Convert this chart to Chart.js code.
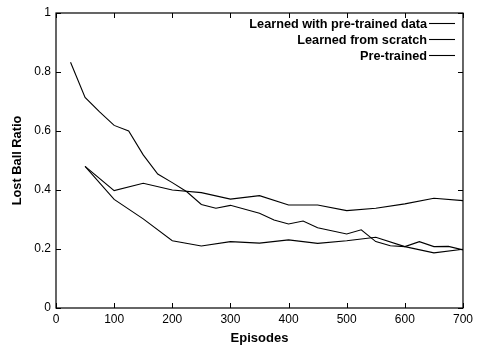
<!DOCTYPE html>
<html><head><meta charset="utf-8">
<script src="https://cdn.jsdelivr.net/npm/chart.js@4/dist/chart.umd.min.js"></script>
<style>html,body{margin:0;padding:0;background:#fff}#wrap{width:477px;height:346px}</style>
</head><body><div id="wrap"><canvas id="c"></canvas></div>
<script>
const seriesNames = ["Learned with pre-trained data", "Learned from scratch", "Pre-trained"];
const episodesA = [25, 50, 75, 100, 125, 150, 175, 200, 225, 250, 275, 300, 350, 375, 400, 425, 450, 500, 525, 550, 575, 600, 625, 650, 675, 700];
const ratioA = [0.833, 0.714, 0.665, 0.619, 0.60, 0.519, 0.454, 0.425, 0.394, 0.351, 0.338, 0.348, 0.321, 0.298, 0.285, 0.295, 0.272, 0.251, 0.265, 0.225, 0.211, 0.208, 0.225, 0.208, 0.209, 0.197];
const episodesB = [50, 100, 150, 200, 250, 300, 350, 400, 450, 500, 550, 600, 650, 700];
const ratioB = [0.48, 0.398, 0.423, 0.40, 0.391, 0.369, 0.381, 0.349, 0.349, 0.330, 0.338, 0.353, 0.372, 0.364];
const episodesC = [50, 100, 150, 200, 250, 300, 350, 400, 450, 500, 550, 600, 650, 700];
const ratioC = [0.48, 0.368, 0.302, 0.228, 0.210, 0.225, 0.220, 0.231, 0.219, 0.228, 0.240, 0.208, 0.187, 0.199];
const xTicks = [0, 100, 200, 300, 400, 500, 600, 700];
const yTicks = [0, 0.2, 0.4, 0.6, 0.8, 1];
const yTickLabels = ["0", "0.2", "0.4", "0.6", "0.8", "1"];

const FONT = '"Liberation Sans", Arial, sans-serif';
const toPts = (xs, ys) => xs.map((x, i) => ({x: x, y: ys[i]}));
const lineStyle = {borderColor: '#000', borderWidth: 1.1, pointRadius: 0, fill: false, tension: 0};

const inwardTicks = {
  id: 'inwardTicks',
  afterDraw(chart) {
    const {ctx, chartArea: a, scales: {x, y}} = chart;
    ctx.save();
    ctx.strokeStyle = '#000'; ctx.lineWidth = 1;
    const L = 5;
    ctx.beginPath();
    xTicks.forEach(v => {
      const px = Math.round(x.getPixelForValue(v)) + 0.5;
      ctx.moveTo(px, a.bottom); ctx.lineTo(px, a.bottom - L);
      ctx.moveTo(px, a.top); ctx.lineTo(px, a.top + L);
    });
    yTicks.forEach(v => {
      const py = Math.round(y.getPixelForValue(v)) + 0.5;
      ctx.moveTo(a.left, py); ctx.lineTo(a.left + L, py);
      ctx.moveTo(a.right, py); ctx.lineTo(a.right - L, py);
    });
    ctx.stroke();
    ctx.lineWidth = 1.2;
    ctx.strokeRect(a.left, a.top, a.right - a.left, a.bottom - a.top);
    // legend
    ctx.font = 'bold 12.7px ' + FONT;
    ctx.fillStyle = '#000';
    ctx.textAlign = 'right'; ctx.textBaseline = 'middle';
    chart.data.datasets.forEach((ds, i) => {
      const yy = 24 + i * 16;
      ctx.fillText(ds.label, 427, yy);
      ctx.beginPath();
      ctx.lineWidth = 1.1;
      ctx.moveTo(429, yy - 0.5); ctx.lineTo(455, yy - 0.5);
      ctx.stroke();
    });
    ctx.restore();
  }
};

new Chart(document.getElementById('c'), {
  type: 'line',
  data: {
    datasets: [
      Object.assign({label: seriesNames[0], data: toPts(episodesA, ratioA)}, lineStyle),
      Object.assign({label: seriesNames[1], data: toPts(episodesB, ratioB)}, lineStyle),
      Object.assign({label: seriesNames[2], data: toPts(episodesC, ratioC)}, lineStyle)
    ]
  },
  options: {
    responsive: true, maintainAspectRatio: false, animation: false,
    layout: {padding: {left: 0, right: 13, top: 13, bottom: 0}},
    plugins: {legend: {display: false}, tooltip: {enabled: false}},
    scales: {
      x: {
        type: 'linear', min: 0, max: 700,
        afterBuildTicks: s => { s.ticks = xTicks.map(v => ({value: v})); },
        afterFit: s => { s.height = 38; },
        grid: {display: false, drawTicks: false},
        border: {display: false},
        ticks: {color: '#000', padding: 4, maxRotation: 0, font: {family: FONT, size: 12}},
        title: {display: true, text: 'Episodes', color: '#000', padding: {top: 2, bottom: 0}, font: {family: FONT, size: 13, weight: 'bold'}}
      },
      y: {
        type: 'linear', min: 0, max: 1,
        afterBuildTicks: s => { s.ticks = yTicks.map(v => ({value: v})); },
        afterFit: s => { s.width = 56; },
        grid: {display: false, drawTicks: false},
        border: {display: false},
        ticks: {color: '#000', padding: 5, callback: (v) => yTickLabels[yTicks.indexOf(v)] ?? '', font: {family: FONT, size: 12}},
        title: {display: true, text: 'Lost Ball Ratio', color: '#000', padding: {top: 10, bottom: 0}, font: {family: FONT, size: 12.8, weight: 'bold'}}
      }
    }
  },
  plugins: [inwardTicks]
});
</script></body></html>
